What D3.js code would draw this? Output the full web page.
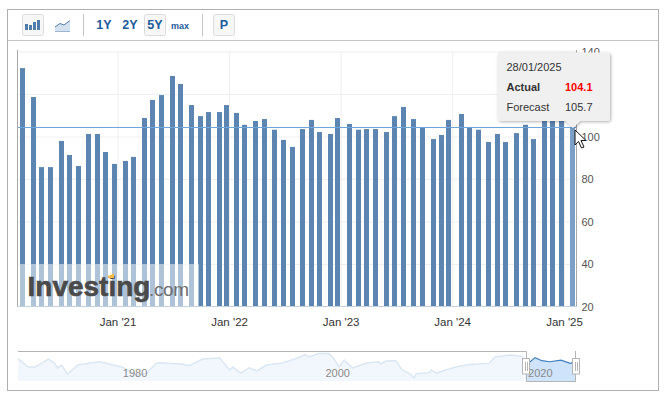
<!DOCTYPE html>
<html>
<head>
<meta charset="utf-8">
<script src="https://cdn.jsdelivr.net/npm/d3@7"></script>
<style>
    html, body { margin: 0; padding: 0; background: #fff; }
    svg { display: block; font-family: "Liberation Sans", Arial, sans-serif; }
</style>
</head>
<body>
<div id="chart-container"></div>
<script>
// release dates, last tuesday of the month mostly
const releaseDates = [
    "2020-02-25","2020-03-31","2020-04-28","2020-05-26","2020-06-30","2020-07-28","2020-08-25","2020-09-29","2020-10-27","2020-11-24","2020-12-22",
    "2021-01-26","2021-02-23","2021-03-30","2021-04-27","2021-05-25","2021-06-29","2021-07-27","2021-08-31","2021-09-28","2021-10-26","2021-11-30","2021-12-22",
    "2022-01-25","2022-02-22","2022-03-29","2022-04-26","2022-05-31","2022-06-28","2022-07-26","2022-08-30","2022-09-27","2022-10-25","2022-11-29","2022-12-21",
    "2023-01-31","2023-02-28","2023-03-28","2023-04-25","2023-05-30","2023-06-27","2023-07-25","2023-08-29","2023-09-26","2023-10-31","2023-11-28","2023-12-20",
    "2024-01-30","2024-02-27","2024-03-26","2024-04-30","2024-05-28","2024-06-25","2024-07-30","2024-08-27","2024-09-24","2024-10-29","2024-11-26","2024-12-23",
    "2025-01-28"
];
const actualValues = [
    132.2,118.6,85.6,85.6,97.9,91.3,86.1,101.2,101.2,92.7,87.1,
    88.5,90.4,108.7,117.2,119.5,128.5,124.7,114.8,109.6,111.5,111.5,114.8,
    111.1,105.5,107.3,108.2,103.2,98.4,95.1,103.5,107.8,102.1,101.2,108.7,
    105.9,103.2,103.5,103.5,102.1,109.6,113.9,108.2,104,98.8,100.7,107.8,
    110.6,104.5,103.2,97.4,101.2,97.4,101.6,105.5,98.8,109.6,111.7,109.4,
    104.1
];
const yTicks = [20, 40, 60, 80, 100, 120, 140];
// 120 sits under the tooltip in the screenshot
const yLabelTicks = [20, 40, 60, 80, 100, 140];
const xTickDates = ["2021-01-01","2022-01-01","2023-01-01","2024-01-01","2025-01-01"];

// navigator, whole history
const navYears = [1970,1971,1971.7,1973,1973.6,1973.9,1974.3,1974.9,1975.9,1978.1,1979.7,1980.3,1981.7,1982.7,1983.7,1986.2,1986.9,1988.2,1989.9,1990.9,1991.2,1992,1992.8,1993.6,1994.5,1996.1,1997.3,1998.4,1998.7,1999.7,2000.7,2001.2,2001.7,2002.2,2003,2004.4,2005.6,2005.8,2006.3,2007.3,2007.9,2008.6,2009.1,2009.3,2010.6,2010.8,2011.3,2013.2,2014.5,2016.5,2017.1,2018.7,2019.9];
const navValues = [119,78,78,117,98,74,88,44,88,104,85,78,40,49,99,93,85,117,122,64,78,49,74,59,88,98,117,139,127,144,144,117,80,112,74,98,104,93,108,109,64,49,25,46,51,64,49,78,90,96,127,137,128];
const selYears = [2020.1,2020.4,2021.05,2021.7,2022.5,2023.6,2024.5,2025.08];
const selValues = [90,98,124,109,104,112,96,103];
const navTickYears = [1980, 2000, 2020];

const rangeButtons = [
    {text: "1Y", x: 104, size: 12.5},
    {text: "2Y", x: 130, size: 12.5},
    {text: "5Y", x: 155, size: 12.5},
    {text: "max", x: 180, size: 9},
    {text: "P", x: 224, size: 12.5}
];

const width = 668, height = 396;
const parseDay = d3.utcParse("%Y-%m-%d");
const dates = releaseDates.map(parseDay);

const svg = d3.select("#chart-container")
    .append("svg")
    .attr("width", width)
    .attr("height", height);

const defs = svg.append("defs");
const shadow = defs.append("filter").attr("id", "tip-shadow")
    .attr("x", "-10%").attr("y", "-10%").attr("width", "125%").attr("height", "130%");
shadow.append("feDropShadow")
    .attr("dx", 1).attr("dy", 1).attr("stdDeviation", 1.5)
    .attr("flood-color", "#000").attr("flood-opacity", 0.3);

// outer frame + toolbar
svg.append("rect")
    .attr("x", 7.5).attr("y", 9.5).attr("width", 651).attr("height", 381)
    .attr("fill", "#fff").attr("stroke", "#b0b0b0");
svg.append("line")
    .attr("x1", 8).attr("x2", 658).attr("y1", 40.5).attr("y2", 40.5)
    .attr("stroke", "#c4c4c4");

function toolbarButton(x, w) {
    svg.append("rect")
        .attr("x", x + 0.5).attr("y", 14.5).attr("width", w).attr("height", 21).attr("rx", 2)
        .attr("fill", "#f7f7f7").attr("stroke", "#dcdcdc");
}
toolbarButton(22, 21);
toolbarButton(144, 21);
toolbarButton(213, 21);

[83.5, 202.5].forEach(x => {
    svg.append("line")
        .attr("x1", x).attr("x2", x).attr("y1", 14).attr("y2", 36)
        .attr("stroke", "#c4c4c4");
});

// bar icon
[[25, 6], [29, 5], [33, 8], [37, 10]].forEach(b => {
    svg.append("rect")
        .attr("x", b[0]).attr("y", 30 - b[1]).attr("width", 3).attr("height", b[1])
        .attr("fill", "#4f7cab");
});
// line icon
svg.append("path")
    .attr("d", "M55,27 L60,23.5 L64,25 L70,20.5 L70,31.5 L55,31.5 Z")
    .attr("fill", "#d3e1f0");
svg.append("path")
    .attr("d", "M55,27 L60,23.5 L64,25 L70,20.5")
    .attr("fill", "none").attr("stroke", "#4f7cab");
svg.append("line")
    .attr("x1", 55).attr("x2", 70).attr("y1", 31.5).attr("y2", 31.5)
    .attr("stroke", "#9db7d2");

svg.selectAll(".range-label")
    .data(rangeButtons)
    .join("text")
    .attr("class", "range-label")
    .attr("x", d => d.x)
    .attr("y", 29)
    .attr("text-anchor", "middle")
    .attr("font-weight", "bold")
    .attr("font-size", d => d.size)
    .attr("fill", "#1c5a9c")
    .text(d => d.text);

// scales
const x = d3.scaleUtc()
    .domain([dates[0], dates[dates.length - 1]])
    .range([22.5, 572.25]);
const y = d3.scaleLinear().domain([20, 140]).range([306.5, 51.5]);

// grid
const yGrid = svg.append("g")
    .attr("transform", "translate(17.5,0)")
    .call(d3.axisRight(y).tickValues(yTicks.filter(t => t > 20)).tickSize(559).tickFormat(""));
yGrid.select(".domain").remove();
yGrid.selectAll("line").attr("stroke", "#efefef");

const xGrid = svg.append("g")
    .attr("transform", "translate(0,51.5)")
    .call(d3.axisBottom(x).tickValues(xTickDates.map(parseDay)).tickSize(255).tickFormat(""));
xGrid.select(".domain").remove();
xGrid.selectAll("line").attr("stroke", "#efefef");

// bars
svg.selectAll(".bar")
    .data(actualValues)
    .join("rect")
    .attr("class", "bar")
    .attr("x", (d, i) => Math.round(x(dates[i]) - 2.5))
    .attr("y", d => y(d))
    .attr("width", 5)
    .attr("height", d => y(20) - y(d))
    .attr("fill", (d, i) => i == actualValues.length - 1 ? "#7b9fc6" : "#5d85b1");

// watermark
svg.append("rect")
    .attr("x", 18).attr("y", 264).attr("width", 181).attr("height", 42)
    .attr("fill", "#fff").attr("opacity", 0.5);
svg.append("text")
    .attr("x", 27.5).attr("y", 295.5)
    .attr("font-size", 28).attr("font-weight", "bold")
    .attr("fill", "#4a4a4a").attr("stroke", "#4a4a4a").attr("stroke-width", 0.6)
    .text("Investing");
svg.append("text")
    .attr("x", 149).attr("y", 295.5)
    .attr("font-size", 19).attr("letter-spacing", -0.4)
    .attr("fill", "#6f6f6f")
    .text(".com");
svg.append("path")
    .attr("d", "M108,276 L114,273.5 L114,278 L108,278 Z")
    .attr("fill", "#f5b945");

// axis lines
svg.append("line")
    .attr("x1", 17.5).attr("x2", 17.5).attr("y1", 50).attr("y2", 307)
    .attr("stroke", "#a8a8a8");
svg.append("line")
    .attr("x1", 576.5).attr("x2", 576.5).attr("y1", 50).attr("y2", 307)
    .attr("stroke", "#a8a8a8");
svg.append("line")
    .attr("x1", 17).attr("x2", 577).attr("y1", 306.5).attr("y2", 306.5)
    .attr("stroke", "#c0d0e0");

// crosshair at the hovered value
svg.append("line")
    .attr("x1", 18).attr("x2", 576)
    .attr("y1", Math.floor(y(actualValues[actualValues.length - 1])) + 0.5)
    .attr("y2", Math.floor(y(actualValues[actualValues.length - 1])) + 0.5)
    .attr("stroke", "#6ea6dc");

// axis labels
const yAxis = svg.append("g")
    .attr("transform", "translate(576.5,0)")
    .call(d3.axisRight(y).tickValues(yLabelTicks).tickSize(0).tickPadding(5));
yAxis.select(".domain").remove();
yAxis.selectAll("text")
    .attr("font-family", "Liberation Sans")
    .attr("font-size", 11)
    .attr("fill", "#555");

const xAxis = svg.append("g")
    .attr("transform", "translate(0,315)")
    .call(d3.axisBottom(x)
        .tickValues(xTickDates.map(parseDay))
        .tickSize(0)
        .tickPadding(3)
        .tickFormat(d3.utcFormat("Jan '%y")));
xAxis.select(".domain").remove();
xAxis.selectAll("text")
    .attr("font-family", "Liberation Sans")
    .attr("font-size", 11.5)
    .attr("fill", "#333");

// navigator
const navX = d3.scaleLinear().domain([1970, 2025.08]).range([18, 576]);
const navY = d3.scaleLinear().domain([25, 144]).range([378, 353.5]);
const navBottom = 381;

const navArea = d3.area().x((d, i) => d.x).y0(navBottom).y1(d => d.y);
const navLine = d3.line().x(d => d.x).y(d => d.y);
const navPts = navYears.map((yr, i) => ({x: navX(yr), y: navY(navValues[i])}));
const selPts = selYears.map((yr, i) => ({x: navX(yr), y: navY(selValues[i])}));

svg.append("path").datum(navPts)
    .attr("d", navArea)
    .attr("fill", "#f2f7fd");
svg.append("path").datum(navPts)
    .attr("d", navLine)
    .attr("fill", "none").attr("stroke", "#dbe7f3").attr("stroke-width", 1.5);
svg.append("path").datum(selPts)
    .attr("d", navArea)
    .attr("fill", "#cfe3fa");
svg.append("path").datum(selPts)
    .attr("d", navLine)
    .attr("fill", "none").attr("stroke", "#3f7fbd").attr("stroke-width", 1.2);

svg.selectAll(".nav-label")
    .data(navTickYears)
    .join("text")
    .attr("class", "nav-label")
    .attr("x", d => navX(d) + 3.5)
    .attr("y", 377)
    .attr("font-size", 11)
    .attr("fill", "#8a8a8a")
    .text(d => d);

// selection outline
svg.append("path")
    .attr("d", "M18,351.5 L526.5,351.5 L526.5,381.5 L575.5,381.5 L575.5,351")
    .attr("fill", "none").attr("stroke", "#b4b4b4");

[522, 572].forEach(hx => {
    svg.append("rect")
        .attr("x", hx + 0.5).attr("y", 358.5).attr("width", 7).attr("height", 15.5)
        .attr("fill", "#fff").attr("stroke", "#b4b4b4");
    [hx + 3, hx + 5].forEach(lx => {
        svg.append("line")
            .attr("x1", lx + 0.5).attr("x2", lx + 0.5).attr("y1", 362).attr("y2", 371)
            .attr("stroke", "#b4b4b4");
    });
});

// tooltip
const tipX = 497.5, tipY = 52.5;
const tip = svg.append("g");
tip.append("path")
    .attr("d", "M500.5,52.5 L607,52.5 Q610,52.5 610,55.5 L610,118 Q610,121 607,121 L580,121 L573,128 L566,121 L500.5,121 Q497.5,121 497.5,118 L497.5,55.5 Q497.5,52.5 500.5,52.5 Z")
    .attr("fill", "#f0f0f0")
    .attr("filter", "url(#tip-shadow)");
tip.append("text")
    .attr("x", tipX + 9).attr("y", 71)
    .attr("font-size", 11).attr("fill", "#333")
    .text("28/01/2025");
tip.append("text")
    .attr("x", tipX + 9).attr("y", 91)
    .attr("font-size", 11).attr("font-weight", "bold").attr("fill", "#333")
    .text("Actual");
tip.append("text")
    .attr("x", 565).attr("y", 91)
    .attr("font-size", 11).attr("font-weight", "bold").attr("fill", "#ff0000")
    .text(actualValues[actualValues.length - 1].toFixed(1));
tip.append("text")
    .attr("x", tipX + 9).attr("y", 111)
    .attr("font-size", 11).attr("fill", "#333")
    .text("Forecast");
tip.append("text")
    .attr("x", 565).attr("y", 111)
    .attr("font-size", 11).attr("fill", "#333")
    .text("105.7");

// mouse pointer in the screenshot
svg.append("path")
    .attr("d", "M575,130 L575,145 L578.5,141.5 L581.5,148 L584,147 L581,140.5 L586,140.5 Z")
    .attr("fill", "#fff").attr("stroke", "#111").attr("stroke-width", 1);
</script>
</body>
</html>
